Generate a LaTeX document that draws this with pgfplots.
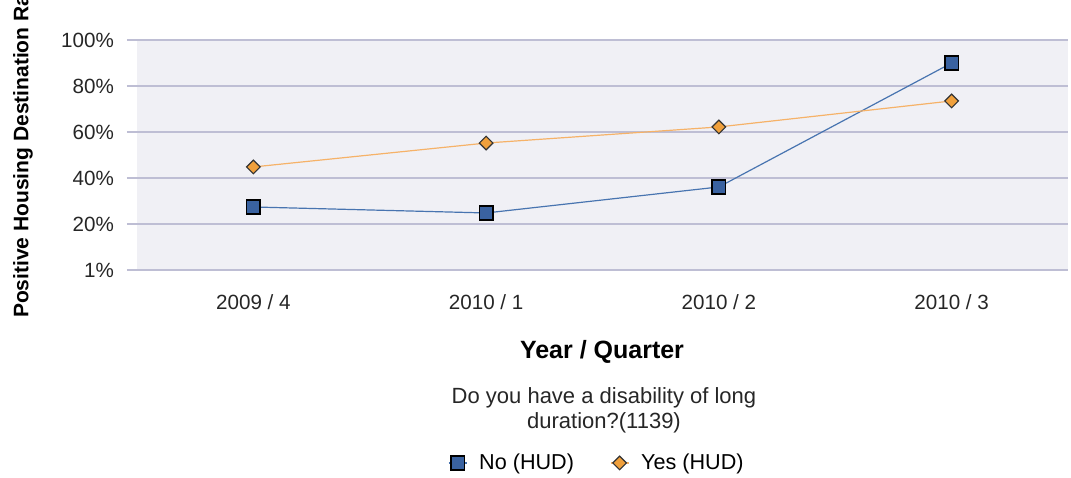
\documentclass[border=0pt]{standalone}
\usepackage{pgfplots}
\pgfplotsset{compat=1.18}
\usepackage{fontspec}
\setmainfont{Liberation Sans}
\definecolor{gridc}{RGB}{190,190,212}
\definecolor{bgc}{RGB}{240,240,245}
\definecolor{bluem}{RGB}{58,98,160}
\definecolor{bluel}{RGB}{72,116,176}
\definecolor{orangem}{RGB}{240,160,60}
\definecolor{orangel}{RGB}{246,178,104}
\begin{document}
\begin{tikzpicture}[x=0.5pt,y=0.5pt]
\useasboundingbox (0,0) rectangle (1071,477);
\begin{axis}[
  at={(68.5pt,103.5pt)}, anchor=south west,
  scale only axis, width=465.5pt, height=115pt,
  xmin=-0.5, xmax=3.5, ymin=0, ymax=100,
  axis x line*=bottom, axis y line*=left,
  axis line style={draw=none},
  axis background/.style={fill=bgc},
  xtick={0,1,2,3},
  xticklabels={2009 / 4,2010 / 1,2010 / 2,2010 / 3},
  ytick={0,20,40,60,80,100},
  yticklabels={1\%,20\%,40\%,60\%,80\%,100\%},
  ymajorgrids, grid style={gridc, line width=1pt},
  tick align=outside, major tick length=5pt,
  x tick style={draw=none},
  y tick style={draw=gridc, line width=1pt},
  x tick label style={font=\fontsize{10.3}{12}\selectfont, color=black!85, yshift=-4pt},
  y tick label style={font=\fontsize{10.3}{12}\selectfont, color=black!85, xshift=-3pt},
  clip=false,
  legend style={at={(0.495,-0.839)}, anchor=center, draw=none, fill=none,
    legend columns=2, font=\fontsize{10.8}{12}\selectfont,
    /tikz/every odd column/.append style={column sep=4pt},
    /tikz/every even column/.append style={column sep=16pt}},
  legend image code/.code={\draw[mark repeat=2,mark phase=2] plot coordinates {(0pt,0pt) (4.5pt,0pt) (9pt,0pt)};},
]
\addplot[color=bluel, line width=0.6pt, mark=square*, mark size=3.4pt,
  mark options={fill=bluem, draw=black, line width=0.8pt}]
  coordinates {(0,27.4) (1,24.8) (2,36.1) (3,90.0)};
\addlegendentry{No (HUD)}
\addplot[color=orangel, line width=0.6pt, mark=square*, mark size=2.4pt,
  mark options={fill=orangem, draw=black!80, line width=0.6pt, rotate=45}]
  coordinates {(0,44.8) (1,55.2) (2,62.2) (3,73.5)};
\addlegendentry{Yes (HUD)}
\end{axis}
\node[rotate=90, anchor=west, font=\bfseries\fontsize{10.5}{12}\selectfont] at (23,152) {Positive Housing Destination Rate};
\node[font=\bfseries\fontsize{12.5}{14}\selectfont] at (602,125) {Year / Quarter};
\node[align=center, font=\fontsize{11}{12.5}\selectfont, color=black!85] at (604,67) {Do you have a disability of long\\duration?(1139)};
\end{tikzpicture}
\end{document}
